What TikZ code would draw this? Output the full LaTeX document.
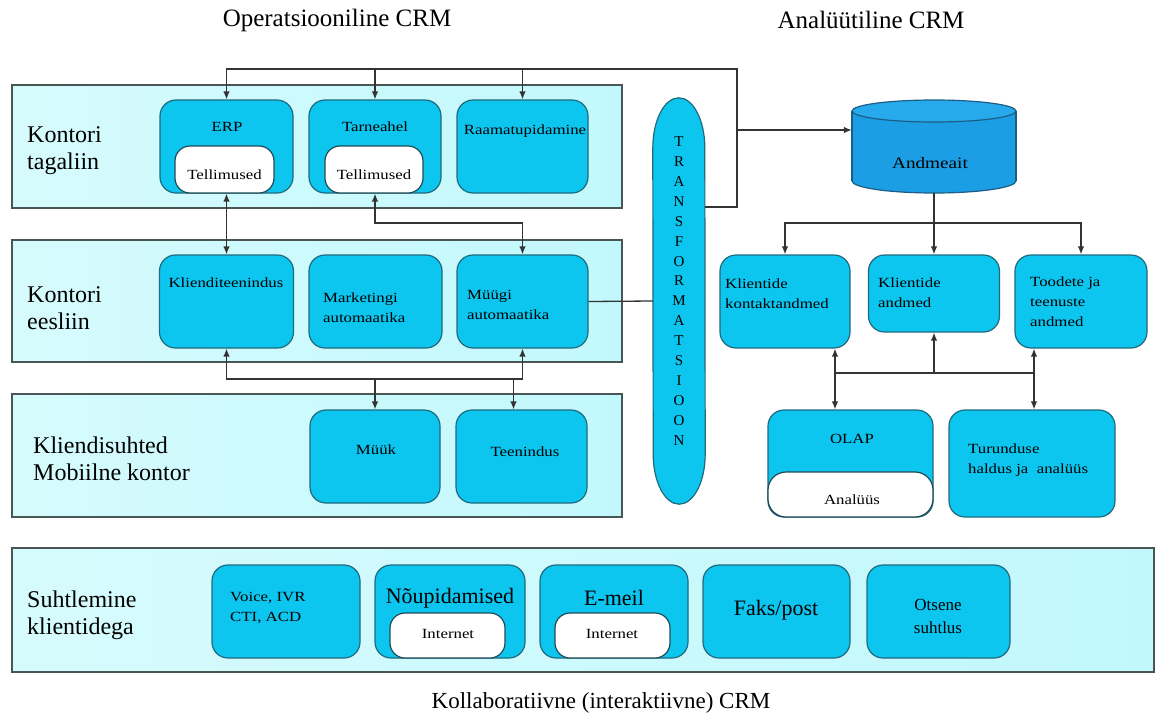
\documentclass[tikz,border=0pt]{standalone}
\usepackage{fontspec}
\setmainfont{Liberation Serif}
\newfontfamily\boxfont[FakeStretch=1.2]{Liberation Serif}
\usetikzlibrary{arrows.meta}

\definecolor{lanefill}{HTML}{C2F8FC}
\definecolor{lanefilllight}{HTML}{D6FBFD}
\definecolor{laneedge}{HTML}{4A5656}
\definecolor{boxcyan}{HTML}{0DC6EF}
\definecolor{boxedge}{HTML}{1F6B7E}
\definecolor{pilledge}{HTML}{1E4A56}
\definecolor{wirecol}{HTML}{333333}
\definecolor{dbbody}{HTML}{1B9EE3}
\definecolor{dbtop}{HTML}{27AAEB}
\definecolor{dbedge}{HTML}{1C5E86}

\begin{document}
\begin{tikzpicture}[x=1pt,y=-1pt,
  >={Latex[length=8pt,width=6.5pt]},
  lanebox/.style={draw=laneedge,line width=1.8pt,left color=lanefilllight,right color=lanefill,inner sep=0},
  cbox/.style={draw=boxedge,line width=1.2pt,fill=boxcyan,rounded corners=16pt,inner sep=0},
  pill/.style={draw=pilledge,line width=1.2pt,fill=white,rounded corners=15pt,inner sep=0},
  txt/.style={font=\boxfont\fontsize{14}{20}\selectfont,inner sep=0,align=left},
  bigtxt/.style={font=\fontsize{22}{26}\selectfont,inner sep=0},
  lanetxt/.style={font=\fontsize{24}{27}\selectfont,inner sep=0,align=left,anchor=west},
  ttl/.style={font=\fontsize{25}{28}\selectfont,inner sep=0},
  wire/.style={draw=wirecol,line width=1.3pt}
]
\fill[white] (0,0) rectangle (1162,718);
\useasboundingbox (0,0) rectangle (1162,718);

% headings
\node[ttl] (hOp) at (337,20) {Operatsiooniline CRM};
\node[ttl] (hAn) at (871,20) {Analüütiline CRM};
\node[ttl,font=\fontsize{23}{28}\selectfont] (hKo) at (601,703) {Kollaboratiivne (interaktiivne) CRM};

% lanes
\node[lanebox,minimum width=610pt,minimum height=123pt] (lane1) at (317,146.5) {};
\node[lanebox,minimum width=610pt,minimum height=122pt] (lane2) at (317,301) {};
\node[lanebox,minimum width=610pt,minimum height=123pt] (lane3) at (317,455.5) {};
\node[lanebox,minimum width=1142pt,minimum height=124pt] (lane4) at (583,610) {};

\node[lanetxt] (lab1) at (27,151) {Kontori\\tagaliin};
\node[lanetxt] (lab2) at (27,308) {Kontori\\eesliin};
\node[lanetxt] (lab3) at (33,459) {Kliendisuhted\\Mobiilne kontor};
\node[lanetxt] (lab4) at (27,615) {Suhtlemine\\klientidega};

% back office
\node[cbox,minimum width=133pt,minimum height=93pt] (erp) at (226.5,146.5) {};
\node[cbox,minimum width=132pt,minimum height=93pt] (tarne) at (375,146.5) {};
\node[cbox,minimum width=131pt,minimum height=93pt] (raamat) at (522.5,146.5) {};
\node[pill,minimum width=99pt,minimum height=47pt] (tell1) at (224.5,169.5) {};
\node[pill,minimum width=98pt,minimum height=47pt] (tell2) at (374,169.5) {};
\node[txt] (erpT) at (227,127) {ERP};
\node[txt] (tell1T) at (224.5,175) {Tellimused};
\node[txt] (tarneT) at (375,127) {Tarneahel};
\node[txt] (tell2T) at (374,175) {Tellimused};
\node[txt] (raamatT) at (525,131) {Raamatupidamine};

% front office
\node[cbox,minimum width=134pt,minimum height=93pt] (kteen) at (226.5,301.5) {};
\node[cbox,minimum width=133pt,minimum height=93pt] (mark) at (375.5,301.5) {};
\node[cbox,minimum width=131pt,minimum height=93pt] (muugi) at (522.5,301.5) {};
\node[txt] (kteenT) at (226,283) {Klienditeenindus};
\node[txt,anchor=west] (markT) at (323,308) {Marketingi\\automaatika};
\node[txt,anchor=west] (muugiT) at (467,305) {Müügi\\automaatika};

% mobile office
\node[cbox,minimum width=130pt,minimum height=93pt] (muuk) at (375,456.5) {};
\node[cbox,minimum width=131pt,minimum height=93pt] (teen) at (521.5,456.5) {};
\node[txt] (muukT) at (376,450) {Müük};
\node[txt] (teenT) at (525,452) {Teenindus};

% transformation capsule
\node[minimum width=52pt,minimum height=406pt,inner sep=0] (trans) at (679,301) {};
\draw[draw=boxedge,line width=1.2pt,fill=boxcyan]
  ([yshift=-50pt]trans.north west) arc[start angle=180,end angle=360,x radius=26,y radius=50]
  -- ([yshift=50pt]trans.south east) arc[start angle=0,end angle=180,x radius=26,y radius=50]
  -- cycle;
\node[font=\fontsize{15}{19.9}\selectfont,align=center,inner sep=0] (transT) at (679,291)
  {T\\R\\A\\N\\S\\F\\O\\R\\M\\A\\T\\S\\I\\O\\O\\N};

% data warehouse
\node[minimum width=164pt,minimum height=93pt,inner sep=0] (andm) at (934,146.5) {};
\filldraw[fill=dbbody,draw=dbedge,line width=1.2pt] (934,181) ellipse [x radius=82,y radius=12];
\fill[dbbody] (852,111) rectangle (1016,181);
\draw[dbedge,line width=1.2pt] (852,111) -- (852,181) (1016,111) -- (1016,181);
\filldraw[fill=dbtop,draw=dbedge,line width=1.2pt] (934,111) ellipse [x radius=82,y radius=11];
\node[txt,font=\boxfont\fontsize{16}{20}\selectfont] (andmT) at (930,163) {Andmeait};

% analytical boxes
\node[cbox,minimum width=130pt,minimum height=93pt] (kontakt) at (785,301.5) {};
\node[cbox,minimum width=131pt,minimum height=77pt] (kandmed) at (934,293.5) {};
\node[cbox,minimum width=132pt,minimum height=93pt] (toodete) at (1081,301.5) {};
\node[txt,anchor=west] (kontaktT) at (725,294) {Klientide\\kontaktandmed};
\node[txt,anchor=west] (kandmedT) at (878,293) {Klientide\\andmed};
\node[txt,anchor=west] (toodeteT) at (1030,302) {Toodete ja\\teenuste\\andmed};

\node[cbox,minimum width=165pt,minimum height=107pt] (olap) at (850.5,463.5) {};
\node[pill,minimum width=165pt,minimum height=45pt,rounded corners=18pt] (anal) at (850.5,494.5) {};
\node[cbox,minimum width=166pt,minimum height=107pt] (turund) at (1032,463.5) {};
\node[txt] (olapT) at (852,439) {OLAP};
\node[txt] (analT) at (852,500) {Analüüs};
\node[txt,anchor=west] (turundT) at (968,460) {Turunduse\\haldus ja\ \ analüüs};

% customer channels
\node[cbox,minimum width=148pt,minimum height=93pt] (voice) at (286,611.5) {};
\node[cbox,minimum width=150pt,minimum height=93pt] (noup) at (450,611.5) {};
\node[cbox,minimum width=148pt,minimum height=93pt] (emeil) at (614,611.5) {};
\node[cbox,minimum width=147pt,minimum height=93pt] (faks) at (776.5,611.5) {};
\node[cbox,minimum width=143pt,minimum height=93pt] (otsene) at (938.5,611.5) {};
\node[pill,minimum width=115pt,minimum height=45pt] (int1) at (447.5,635.5) {};
\node[pill,minimum width=115pt,minimum height=45pt] (int2) at (612.5,635.5) {};
\node[txt,anchor=west] (voiceT) at (230,608) {Voice, IVR\\CTI, ACD};
\node[bigtxt] (noupT) at (450,598) {Nõupidamised};
\node[txt] (int1T) at (448,634) {Internet};
\node[bigtxt] (emeilT) at (614,598) {E-meil};
\node[txt] (int2T) at (612,634) {Internet};
\node[bigtxt] (faksT) at (776,610) {Faks/post};
\node[txt,font=\fontsize{17}{23}\selectfont,align=center] (otseneT) at (938,616) {Otsene\\suhtlus};

% junctions
\coordinate (busTR) at (737,69);
\coordinate (busBR) at (737,207);
\coordinate (busDB) at (737,130);
\coordinate (busTM) at (375,223);
\coordinate (busFB) at (227,379);
\coordinate (busAD) at (934,223);
\coordinate (busAL) at (835,373);
\coordinate (busAR) at (1034,373);
\coordinate (teenIn) at ([xshift=-8pt]teen.north);

% connectors
\draw[wire,->] (trans.east |- busBR) -- (busBR) -- (busTR) -| (erp.north);
\draw[wire,->] (tarne.north |- busTR) -- (tarne.north);
\draw[wire,->] (raamat.north |- busTR) -- (raamat.north);
\draw[wire,->] (busDB) -- (andm.west |- busDB);
\draw[wire,<->] (erp.south) -- (kteen.north);
\draw[wire,<->] (tarne.south) -- (tarne.south |- busTM) -| (muugi.north);
\draw[wire,<->] (kteen.south) |- (muugi.south |- busFB) -- (muugi.south);
\draw[wire,->] (muuk.north |- busFB) -- (muuk.north);
\draw[wire,->] (teenIn |- busFB) -- (teenIn);
\draw[wire] (muugi.east) -- (trans.west);
\draw[wire,->] (andm.south) -- (kandmed.north);
\draw[wire,->] (busAD) -| (kontakt.north);
\draw[wire,->] (busAD) -| (toodete.north);
\draw[wire] (busAL) -- (busAR);
\draw[wire,<->] (kontakt.south -| busAL) -- (olap.north -| busAL);
\draw[wire,<->] (toodete.south -| busAR) -- (turund.north -| busAR);
\draw[wire,->] (kandmed.south |- busAL) -- (kandmed.south);
\end{tikzpicture}
\end{document}
